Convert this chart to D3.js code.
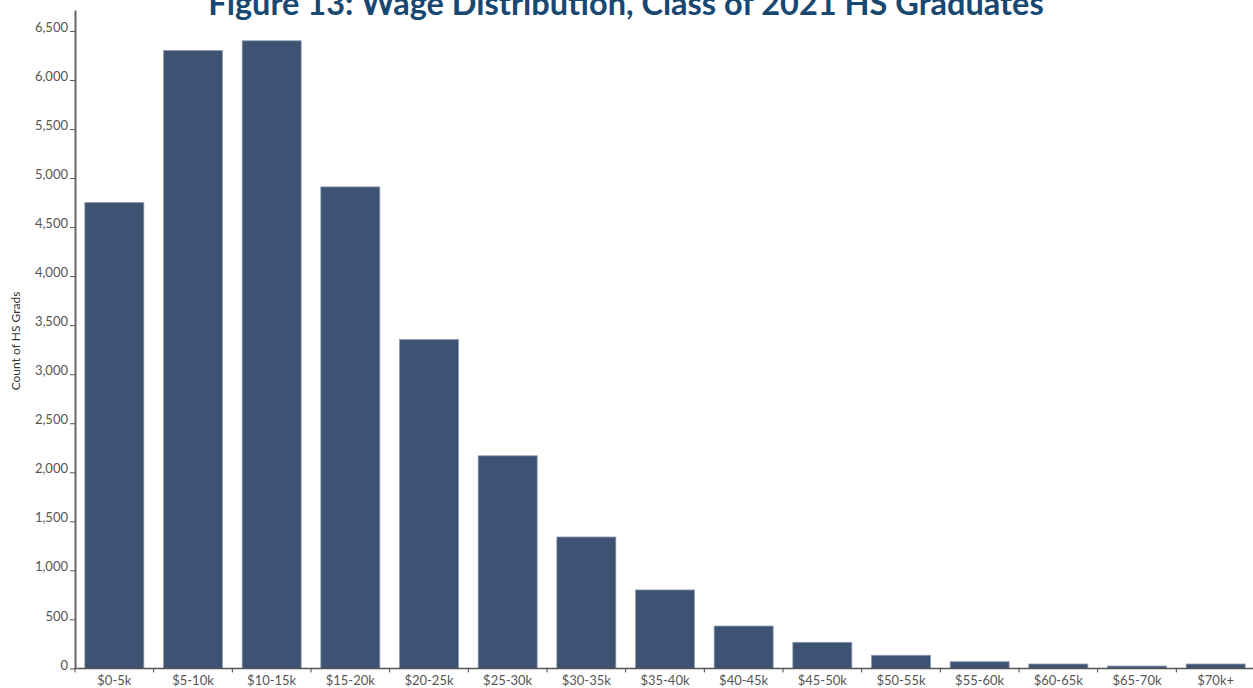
<!DOCTYPE html>
<html>
<head>
<meta charset="utf-8">
<script src="https://cdn.jsdelivr.net/npm/d3@7"></script>
<style>
  body { margin: 0; background: #fff; }
  svg { display: block; }
</style>
</head>
<body>
<div id="chart"></div>
<script>
// data
const categories = ["$0-5k", "$5-10k", "$10-15k", "$15-20k", "$20-25k", "$25-30k", "$30-35k",
  "$35-40k", "$40-45k", "$45-50k", "$50-55k", "$55-60k", "$60-65k", "$65-70k", "$70k+"];
const counts = [4750, 6300, 6400, 4910, 3355, 2168, 1340, 800, 432, 266, 134, 68, 45, 24, 45];
const yTicks = [0, 500, 1000, 1500, 2000, 2500, 3000, 3500, 4000, 4500, 5000, 5500, 6000, 6500];

const w = 1253, h = 688;
const plotLeft = 75, plotRight = 1255, plotTop = 10, plotBottom = 668.4;

const svg = d3.select("#chart").append("svg")
  .attr("width", w)
  .attr("height", h);

const x = d3.scaleBand()
  .domain(categories)
  .range([plotLeft, plotRight])
  .paddingInner(0.25)
  .paddingOuter(0.125);

const y = d3.scaleLinear()
  .domain([0, 6714])
  .range([plotBottom, plotTop]);

// bars
svg.selectAll("rect.bar")
  .data(categories)
  .enter()
  .append("rect")
  .attr("class", "bar")
  .attr("x", d => x(d))
  .attr("width", x.bandwidth())
  .attr("y", (d, i) => y(counts[i]))
  .attr("height", (d, i) => plotBottom - y(counts[i]))
  .attr("fill", "#3e5373")
  .attr("stroke", "#8d9bb2")
  .attr("stroke-width", 0.8);

// y axis
const yAxis = svg.append("g")
  .attr("transform", "translate(" + plotLeft + ",0)")
  .call(d3.axisLeft(y).tickValues(yTicks).tickFormat(d3.format(",")).tickSize(5).tickSizeOuter(0));
yAxis.select(".domain").attr("stroke", "#666").attr("stroke-width", 2);
yAxis.selectAll(".tick line").attr("stroke", "#555");
yAxis.selectAll(".tick text")
  .attr("x", -7)
  .attr("dy", "0.05em")
  .style("font-family", "Lato, sans-serif")
  .style("font-size", "13px")
  .attr("fill", "#555");

// x axis: ticks sit on band boundaries, labels under band centres
const step = x.step();
const boundaries = d3.range(categories.length + 1).map(i => plotLeft + i * step);
svg.append("line")
  .attr("x1", plotLeft).attr("x2", w)
  .attr("y1", plotBottom).attr("y2", plotBottom)
  .attr("stroke", "#555").attr("stroke-width", 1.5);
svg.selectAll("line.xtick")
  .data(boundaries)
  .enter()
  .append("line")
  .attr("class", "xtick")
  .attr("x1", d => d).attr("x2", d => d)
  .attr("y1", plotBottom).attr("y2", plotBottom + 4)
  .attr("stroke", "#444");
svg.selectAll("text.xlab")
  .data(categories)
  .enter()
  .append("text")
  .attr("class", "xlab")
  .attr("x", d => x(d) + x.bandwidth() / 2)
  .attr("y", 685)
  .attr("text-anchor", "middle")
  .style("font-family", "Lato, sans-serif")
  .style("font-size", "13px")
  .attr("fill", "#555")
  .text(d => d);

// axis title
svg.append("text")
  .attr("transform", "translate(20,341) rotate(-90)")
  .attr("text-anchor", "middle")
  .style("font-family", "Lato, sans-serif")
  .style("font-size", "12px")
  .attr("fill", "#333")
  .text("Count of HS Grads");

// chart title (partly cut off at the top, as in the source)
svg.append("text")
  .attr("x", 626)
  .attr("y", 15)
  .attr("text-anchor", "middle")
  .style("font-family", "Lato, sans-serif")
  .style("font-weight", "bold")
  .style("font-size", "32.5px")
  .attr("fill", "#184872")
  .text("Figure 13: Wage Distribution, Class of 2021 HS Graduates");
</script>
</body>
</html>
